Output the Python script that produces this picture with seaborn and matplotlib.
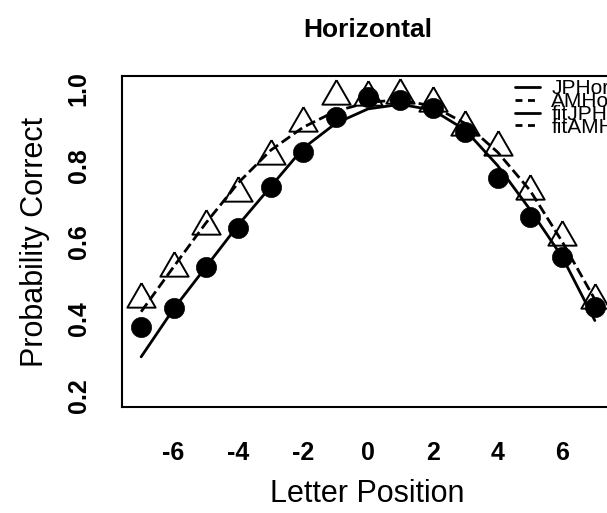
import numpy as np
import pandas as pd
import matplotlib
matplotlib.use("Agg")
import matplotlib.pyplot as plt
from matplotlib.lines import Line2D
import seaborn as sns

# --- data ---
positions = [-7, -6, -5, -4, -3, -2, -1, 0, 1, 2, 3, 4, 5, 6, 7]
jp_horiz = [0.379, 0.427, 0.536, 0.638, 0.744, 0.835, 0.928, 0.978, 0.972,
            0.950, 0.887, 0.767, 0.666, 0.560, 0.430]
am_horiz = [0.452, 0.533, 0.642, 0.727, 0.826, 0.910, 0.983, 0.980, 0.984,
            0.964, 0.900, 0.849, 0.734, 0.612, 0.449]
fit_jp = [0.300, 0.425, 0.535, 0.645, 0.745, 0.845, 0.910, 0.948, 0.960,
          0.945, 0.893, 0.800, 0.685, 0.560, 0.395]
fit_am = [0.418, 0.535, 0.650, 0.755, 0.840, 0.900, 0.942, 0.965, 0.972,
          0.955, 0.910, 0.835, 0.735, 0.600, 0.450]
legend_labels = ["JPHoriz", "AMHoriz", "fitJPHoriz", "fitAMHoriz"]

df = pd.DataFrame({"pos": positions, "JP": jp_horiz, "AM": am_horiz,
                   "fitJP": fit_jp, "fitAM": fit_am})

sns.set_style("white")
plt.rcParams["font.family"] = ["Liberation Sans", "DejaVu Sans"]
plt.rcParams["axes.unicode_minus"] = False
plt.rcParams["text.color"] = "black"
plt.rcParams["axes.labelcolor"] = "black"

fig = plt.figure(figsize=(6.07, 5.13), dpi=100)
# axes box runs past the right edge (the original is cropped there)
ax = fig.add_axes([122 / 607, 106 / 513, 491 / 607, 331 / 513])

# closed triangle centred on its centroid, like R's pch 2
tri = [(0, 1), (-0.866, -0.5), (0.866, -0.5), (0, 1)]

# data points
sns.lineplot(data=df, x="pos", y="JP", ax=ax, linestyle="none", marker="o",
             markersize=14.5, color="black", markeredgecolor="black",
             markeredgewidth=0.5, legend=False)
sns.lineplot(data=df, x="pos", y="AM", ax=ax, linestyle="none", marker=tri,
             markersize=23.5, color="black", markerfacecolor="none",
             markeredgecolor="black", markeredgewidth=1.4, legend=False)

# fitted curves
sns.lineplot(data=df, x="pos", y="fitJP", ax=ax, color="black", linewidth=2.0,
             legend=False)
sns.lineplot(data=df, x="pos", y="fitAM", ax=ax, color="black", linewidth=2.0,
             dashes=(4, 3.5), linestyle="--", legend=False)

ax.set_xlim(-7.59, 7.56)
ax.set_ylim(0.169, 1.034)
ax.set_xticks([-6, -4, -2, 0, 2, 4, 6])
ax.set_yticks([0.2, 0.4, 0.6, 0.8, 1.0])
ax.set_yticklabels(["0.2", "0.4", "0.6", "0.8", "1.0"], rotation=90, va="center")

for s in ax.spines.values():
    s.set_visible(True)
    s.set_color("black")
    s.set_linewidth(1.5)
ax.tick_params(axis="both", direction="out", length=9.5, width=1.3,
               colors="black", labelsize=18)
ax.tick_params(axis="x", pad=15)
ax.tick_params(axis="y", pad=13)
for lab in ax.get_xticklabels() + ax.get_yticklabels():
    lab.set_fontweight("bold")

ax.set_xlabel("Letter Position", fontsize=22, labelpad=10)
ax.set_ylabel("Probability Correct", fontsize=22, labelpad=12)
ax.set_title("Horizontal", fontsize=19, fontweight="bold", pad=28)

handles = [
    Line2D([], [], color="black", linewidth=2.0),
    Line2D([], [], color="black", linewidth=2.0, linestyle=(0, (2.5, 2))),
    Line2D([], [], color="black", linewidth=2.0),
    Line2D([], [], color="black", linewidth=2.0, linestyle=(0, (2.5, 2))),
]
ax.legend(handles, legend_labels, loc="upper left", bbox_to_anchor=(0.80, 0.99),
          frameon=False, fontsize=15, handlelength=1.2, handletextpad=0.55,
          labelspacing=-0.3, borderpad=0, borderaxespad=0)

fig.savefig("out.png", dpi=100)
